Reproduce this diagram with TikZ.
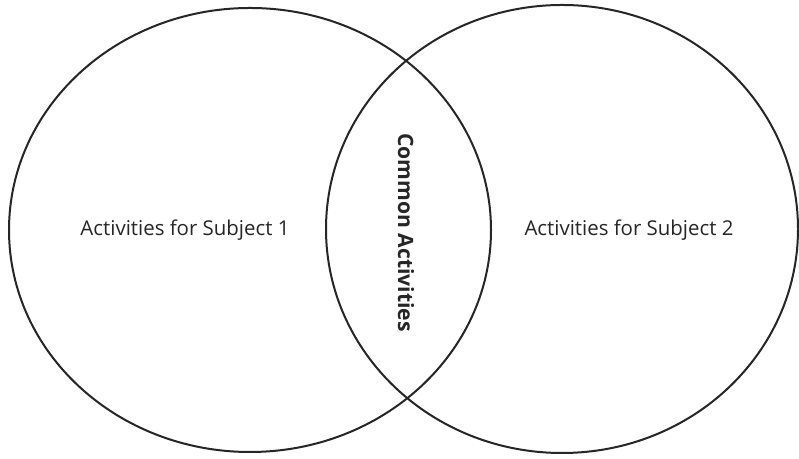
\documentclass[tikz,border=0pt]{standalone}
\usepackage{fontspec}
\setmainfont{Open Sans}
\usetikzlibrary{shapes.geometric}

\begin{document}
\begin{tikzpicture}[x=1bp, y=1bp,
             every node/.style = {inner sep=0pt, text=black!85,
                                  font=\fontsize{20.5}{24}\selectfont},
             set/.style={draw=black!85, line width=2bp, shape=ellipse}]
\useasboundingbox (0,0) rectangle (799,459);

\node (subj1) at (250,229) [set, minimum width=482bp, minimum height=444bp] {};
\node (subj2) at (562,230) [set, minimum width=472bp, minimum height=448bp] {};

\node (lbl1) at (185,223) [anchor=base] {Activities for Subject 1};
\node (lbl2) at (629,223) [anchor=base] {Activities for Subject 2};
\node (common) at (406,226.5) [rotate=-90, font=\fontsize{21.2}{25}\selectfont\bfseries] {Common Activities};

\end{tikzpicture}
\end{document}
